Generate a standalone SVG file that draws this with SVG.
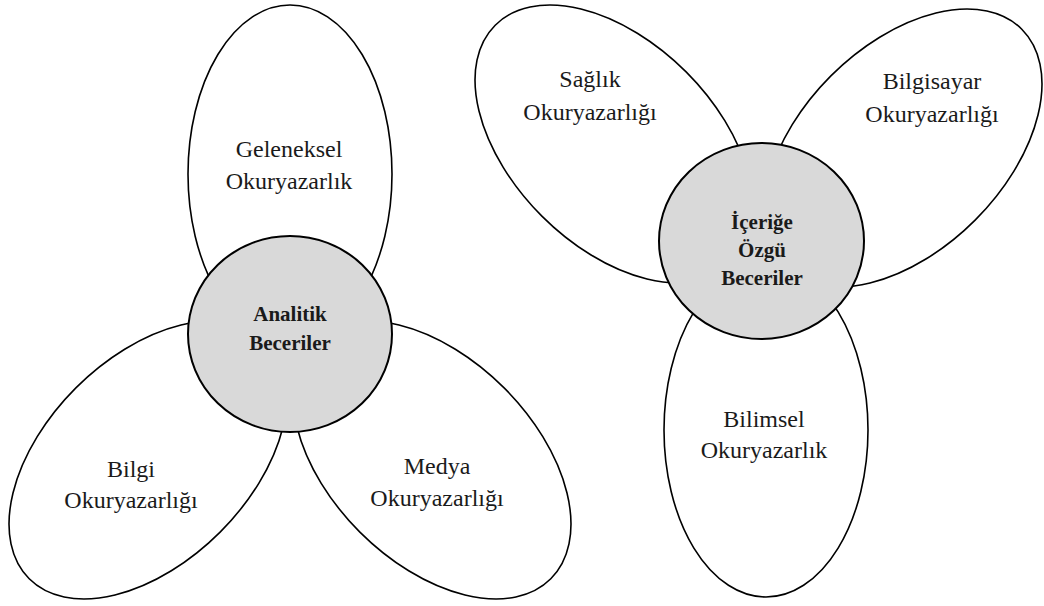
<svg xmlns="http://www.w3.org/2000/svg" width="1044" height="606" viewBox="0 0 1044 606">
<style>
.petal{fill:#ffffff;stroke:#000000;stroke-width:1.6}
.core{fill:#d9d9d9;stroke:#000000;stroke-width:2}
.pt{font-family:"Liberation Serif","Times New Roman",serif;font-size:24px;fill:#1a1a1a;text-anchor:middle}
.ct{font-family:"Liberation Serif","Times New Roman",serif;font-size:21px;font-weight:bold;fill:#1a1a1a;text-anchor:middle}
</style>
<rect width="1044" height="606" fill="#ffffff"/>
<g id="connectors"/>
<g id="geleneksel">
<ellipse class="petal" cx="290" cy="174" rx="102" ry="169"/>
<text class="pt" x="289" y="157">Geleneksel</text>
<text class="pt" x="289" y="189">Okuryazarlık</text>
</g>
<g id="bilgi">
<ellipse class="petal" cx="148" cy="460" rx="168" ry="102" transform="rotate(-45 148 460)"/>
<text class="pt" x="131" y="477">Bilgi</text>
<text class="pt" x="131" y="508">Okuryazarlığı</text>
</g>
<g id="medya">
<ellipse class="petal" cx="432" cy="460" rx="168" ry="102" transform="rotate(45 432 460)"/>
<text class="pt" x="437" y="474">Medya</text>
<text class="pt" x="437" y="506">Okuryazarlığı</text>
</g>
<g id="analitik">
<ellipse class="core" cx="290" cy="334" rx="102" ry="98"/>
<text class="ct" x="290" y="321">Analitik</text>
<text class="ct" x="290" y="350">Beceriler</text>
</g>
<g id="saglik">
<ellipse class="petal" cx="614" cy="144" rx="168" ry="102" transform="rotate(45 614 144)"/>
<text class="pt" x="590" y="87">Sağlık</text>
<text class="pt" x="590" y="120">Okuryazarlığı</text>
</g>
<g id="bilgisayar">
<ellipse class="petal" cx="903" cy="148" rx="168" ry="102" transform="rotate(-45 903 148)"/>
<text class="pt" x="932" y="89">Bilgisayar</text>
<text class="pt" x="932" y="122">Okuryazarlığı</text>
</g>
<g id="bilimsel">
<ellipse class="petal" cx="766" cy="430" rx="102" ry="167"/>
<text class="pt" x="764" y="427">Bilimsel</text>
<text class="pt" x="764" y="458">Okuryazarlık</text>
</g>
<g id="icerige">
<ellipse class="core" cx="761.5" cy="241" rx="102.5" ry="98"/>
<text class="ct" x="762" y="229">İçeriğe</text>
<text class="ct" x="762" y="257">Özgü</text>
<text class="ct" x="762" y="285">Beceriler</text>
</g>
</svg>
